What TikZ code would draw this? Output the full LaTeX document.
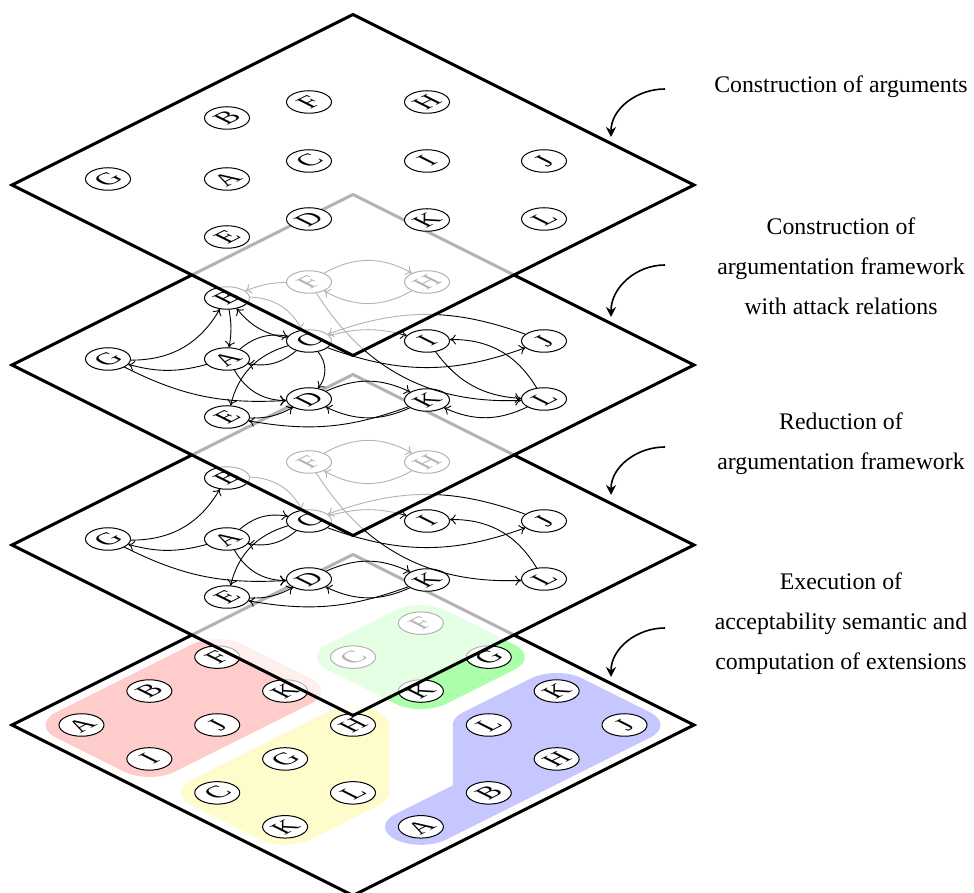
\documentclass[tikz,border=0pt]{standalone}
\usepackage{fontspec}
\setmainfont{Liberation Serif}
\usetikzlibrary{arrows.meta}
\tikzset{
  an/.style={circle, draw, fill=white, inner sep=0pt, minimum size=22.5pt, line width=0.5pt,
    yscale=0.5, rotate=45, font=\fontsize{17}{17}\selectfont},
  ed/.style={-{Computer Modern Rightarrow[length=3pt,width=5pt]}, line width=0.45pt},
  plane/.style={draw=black, line width=1.5pt, fill=white, fill opacity=0.7},
  lab/.style={-{Stealth[length=5pt,width=5pt]}, line width=0.8pt},
  txt/.style={align=center, font=\fontsize{11.9}{20}\selectfont},
  region/.style={line width=36pt, line join=round, line cap=round}
}
\newcommand\argnodes[2]{%
  \node[an] (#1G) at (108,#2+6) {G};
  \node[an] (#1B) at (227,#2+67) {B};
  \node[an] (#1A) at (227,#2+6) {A};
  \node[an] (#1E) at (227,#2-52) {E};
  \node[an] (#1F) at (309,#2+83) {F};
  \node[an] (#1C) at (309,#2+24) {C};
  \node[an] (#1D) at (309,#2-34) {D};
  \node[an] (#1H) at (427,#2+83) {H};
  \node[an] (#1I) at (427,#2+24) {I};
  \node[an] (#1K) at (427,#2-35) {K};
  \node[an] (#1J) at (544,#2+24) {J};
  \node[an] (#1L) at (544,#2-34) {L};
}
\newcommand\planeat[1]{%
  \path[plane] (12,#1) -- (353,#1+170.5) -- (694,#1) -- (353,#1-170.5) -- cycle;
}
\newcommand\commonedges[1]{%
  \draw[ed] (#1G) to[bend right=30] (#1B);
  \draw[ed] (#1A) to[bend left=15] (#1G);
  \draw[ed] (#1G) to[bend right=15] (#1D);
  \draw[ed] (#1B) to[bend left=30] (#1C);
  \draw[ed] (#1A) to[bend left=25] (#1C);
  \draw[ed] (#1C) to[bend left=25] (#1A);
  \draw[ed] (#1C) to[bend right=30] (#1E);
  \draw[ed] (#1A) to[bend right=30] (#1D);
  \draw[ed] (#1E) to[bend right=15] (#1D);
  \draw[ed] (#1K) to[bend left=15] (#1E);
  \draw[ed] (#1D) to[bend left=25] (#1K);
  \draw[ed] (#1K) to[bend left=25] (#1D);
  \draw[ed] (#1L) to[bend right=30] (#1I);
  \draw[ed] (#1F) to[bend right=30] (#1L);
  \draw[ed] (#1C) to[bend right=20] (#1J);
  \draw[ed] (#1J) to[bend right=20] (#1C);
  \draw[ed] (#1C) to[bend left=15] (#1I);
  \draw[ed] (#1F) to[bend left=30] (#1H);
  \draw[ed] (#1H) to[bend left=30] (#1F);
}
\newcommand\extraedges[1]{%
  \draw[ed] (#1B) to[bend left=10] (#1A);
  \draw[ed] (#1C) to[bend left=20] (#1B);
  \draw[ed] (#1F) to[bend right=10] (#1B);
  \draw[ed] (#1C) to[bend left=40] (#1D);
  \draw[ed] (#1L) to[bend left=25] (#1K);
  \draw[ed] (#1I) to[bend right=25] (#1L);
}
\newcommand\gn[4]{%
  \node[an] (#1) at ({353+67.88*(#2-#3)},{168+33.94*(#2+#3)}) {#4};
}
\begin{document}
\begin{tikzpicture}[x=0.5pt,y=0.5pt]
\useasboundingbox (0,0) rectangle (974,893);
% ---------- layer 4 ----------
\planeat{168}
\begin{scope}[transform canvas={shift={(353,168)},yscale=0.5,rotate=45}]
  \filldraw[region, draw=red!20, fill=red!20] (-192,192) -- (0,192) -- (0,96) -- (-192,96) -- cycle;
  \filldraw[region, draw=yellow!20, fill=yellow!20] (-192,0) -- (0,0) -- (-96,-96) -- (-192,-96) -- cycle;
  \filldraw[region, draw=green!33, fill=green!33] (96,96) -- (192,96) -- (192,0) -- (96,0) -- cycle;
  \filldraw[region, draw=blue!22, fill=blue!22] (-96,-192) -- (192,-192) -- (192,-96) -- (96,-96) -- (0,-192) -- cycle;
\end{scope}
\gn{rA}{-2}{2}{A}
\gn{rB}{-1}{2}{B}
\gn{rF}{0}{2}{F}
\gn{rI}{-2}{1}{I}
\gn{rJ}{-1}{1}{J}
\gn{rK}{0}{1}{K}
\gn{yC}{-2}{0}{C}
\gn{yG}{-1}{0}{G}
\gn{yH}{0}{0}{H}
\gn{yK}{-2}{-1}{K}
\gn{yL}{-1}{-1}{L}
\gn{gC}{1}{1}{C}
\gn{gF}{2}{1}{F}
\gn{gG}{2}{0}{G}
\gn{gK}{1}{0}{K}
\gn{bA}{-1}{-2}{A}
\gn{bB}{0}{-2}{B}
\gn{bH}{1}{-2}{H}
\gn{bJ}{2}{-2}{J}
\gn{bK}{2}{-1}{K}
\gn{bL}{1}{-1}{L}
% ---------- layer 3 ----------
\planeat{348}
\argnodes{t}{348}
\commonedges{t}
% ---------- layer 2 ----------
\planeat{528}
\argnodes{s}{528}
\commonedges{s}
\extraedges{s}
% ---------- layer 1 ----------
\planeat{708}
\argnodes{f}{708}
% ---------- annotations ----------
\coordinate (s1) at (665,804); \coordinate (e1) at (611,756);
\coordinate (s2) at (665,628); \coordinate (e2) at (611,576);
\coordinate (s3) at (665,446); \coordinate (e3) at (611,398);
\coordinate (s4) at (665,265); \coordinate (e4) at (611,216);
\draw[lab] (s1) to[out=180,in=90] (e1);
\draw[lab] (s2) to[out=180,in=90] (e2);
\draw[lab] (s3) to[out=180,in=90] (e3);
\draw[lab] (s4) to[out=180,in=90] (e4);
\node[txt] (t1) at (841,806) {Construction of arguments};
\node[txt] (t2) at (841,627) {Construction of\\argumentation framework\\with attack relations};
\node[txt] (t3) at (841,449) {Reduction of\\argumentation framework};
\node[txt] (t4) at (841,269) {Execution of\\acceptability semantic and\\computation of extensions};
\end{tikzpicture}
\end{document}
